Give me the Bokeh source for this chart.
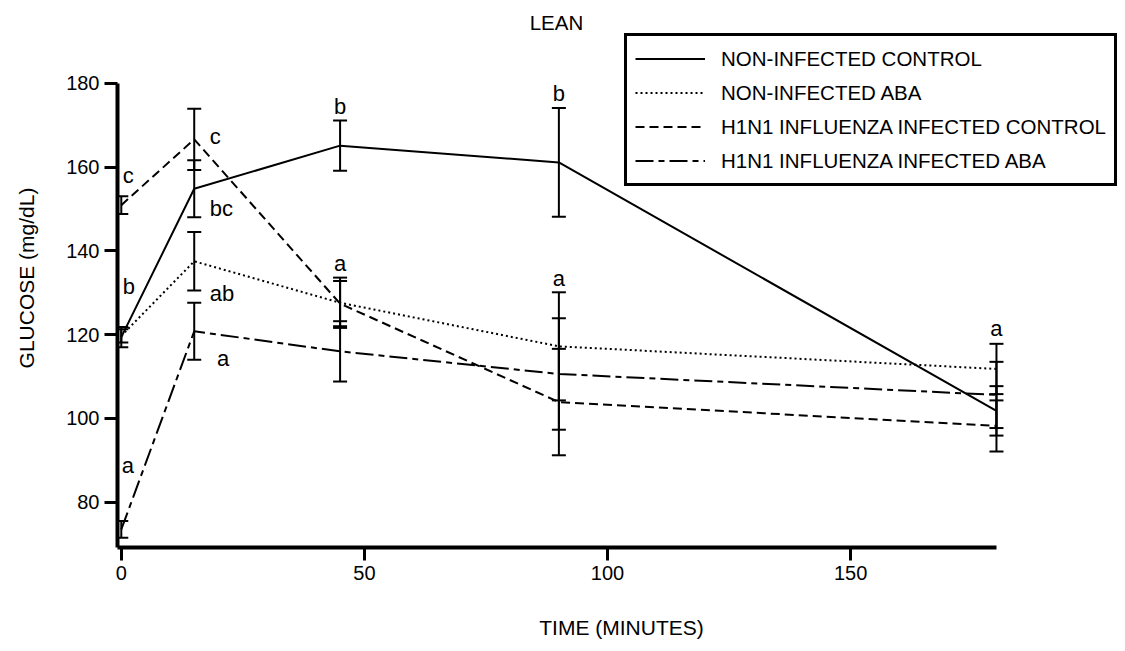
from bokeh.plotting import figure
from bokeh.models import (ColumnDataSource, Whisker, TeeHead, Legend, LegendItem,
                          Label, FixedTicker, Range1d)
from bokeh.core.properties import value
from bokeh.embed import file_html
from bokeh.resources import INLINE

FONT = "Liberation Sans"

# ---------------- data ----------------
time_min = [0, 15, 45, 90, 180]

series_names = [
    "NON-INFECTED CONTROL",
    "NON-INFECTED ABA",
    "H1N1 INFLUENZA INFECTED CONTROL",
    "H1N1 INFLUENZA INFECTED ABA",
]

noninf_control = [119.4, 154.8, 165.1, 161.1, 101.8]
noninf_control_err = [2.4, 6.8, 6.0, 13.0, 5.9]

noninf_aba = [119.7, 137.5, 127.6, 117.2, 111.8]
noninf_aba_err = [1.6, 7.0, 6.0, 12.9, 6.0]

inf_control = [150.9, 166.6, 127.4, 103.9, 98.2]
inf_control_err = [2.1, 7.3, 5.4, 12.7, 6.1]

inf_aba = [73.5, 120.8, 116.0, 110.6, 105.6]
inf_aba_err = [2.0, 6.8, 7.2, 13.3, 7.9]

x_ticks = [0, 50, 100, 150]
y_ticks = [80, 100, 120, 140, 160, 180]

# significance letters (left-aligned next to bars at 0 and 15 min)
side_letter_x = [0.3, 0.3, 0.1, 18.2, 18.2, 18.2, 19.7]
side_letter_y = [157.9, 131.4, 88.7, 167.2, 150.0, 129.7, 114.2]
side_letter_text = ["c", "b", "a", "c", "bc", "ab", "a"]

# significance letters (centred above bars at 45, 90, 180 min)
top_letter_x = [45, 45, 90, 90, 180]
top_letter_y = [174.4, 136.9, 177.5, 133.3, 121.4]
top_letter_text = ["b", "a", "b", "a", "a"]

title_text = "LEAN"
x_label = "TIME (MINUTES)"
y_label = "GLUCOSE (mg/dL)"

# ---------------- figure ----------------
p = figure(width=1125, height=651, output_backend="svg", toolbar_location=None,
           x_range=Range1d(-0.78, 206.54), y_range=Range1d(69.19, 197.83),
           min_border_left=117, min_border_right=0,
           min_border_top=8, min_border_bottom=104)
p.outline_line_color = None
p.xgrid.visible = False
p.ygrid.visible = False
p.background_fill_color = "white"

styles = [
    dict(line_dash="solid"),
    dict(line_dash="2 3"),
    dict(line_dash="9 5"),
    dict(line_dash="18 5 6 5"),
]
means = [noninf_control, noninf_aba, inf_control, inf_aba]
errs = [noninf_control_err, noninf_aba_err, inf_control_err, inf_aba_err]

renderers = []
for m, e, st in zip(means, errs, styles):
    src = ColumnDataSource(dict(
        x=time_min, y=m,
        upper=[a + b for a, b in zip(m, e)],
        lower=[a - b for a, b in zip(m, e)],
    ))
    r = p.line("x", "y", source=src, line_color="black", line_width=2, **st)
    renderers.append(r)
    w = Whisker(base="x", upper="upper", lower="lower", source=src,
                line_color="black", line_width=2,
                upper_head=TeeHead(size=14, line_width=2, line_color="black"),
                lower_head=TeeHead(size=14, line_width=2, line_color="black"))
    p.add_layout(w)

p.text(x=side_letter_x, y=side_letter_y, text=side_letter_text,
       text_font=value(FONT), text_font_size="22px", text_color="black",
       text_align="left", text_baseline="alphabetic")
p.text(x=top_letter_x, y=top_letter_y, text=top_letter_text,
       text_font=value(FONT), text_font_size="22px", text_color="black",
       text_align="center", text_baseline="alphabetic")

p.add_layout(Label(x=89.5, y=194.5, text=title_text, text_font=FONT,
                   text_font_size="20.5px", text_align="center",
                   text_baseline="alphabetic", text_color="black"))

# ---------------- axes ----------------
for ax in (p.xaxis[0], p.yaxis[0]):
    ax.axis_line_width = 4
    ax.axis_line_color = "black"
    ax.major_tick_line_width = 3
    ax.major_tick_line_color = "black"
    ax.major_tick_out = 13
    ax.major_tick_in = 0
    ax.minor_tick_line_color = None
    ax.major_label_text_font = FONT
    ax.major_label_text_font_size = "20px"
    ax.major_label_text_color = "black"
    ax.axis_label_text_font = FONT
    ax.axis_label_text_font_size = "21px"
    ax.axis_label_text_font_style = "normal"
    ax.axis_label_text_color = "black"
    ax.major_label_standoff = 5

p.xaxis.ticker = FixedTicker(ticks=x_ticks)
p.yaxis.ticker = FixedTicker(ticks=y_ticks)
p.xaxis.bounds = (-0.78, 180.1)
p.yaxis.bounds = (69.19, 180)
p.xaxis.axis_label = x_label
p.yaxis.axis_label = y_label
p.xaxis.axis_label_standoff = 33
p.yaxis.axis_label_standoff = 25

# ---------------- legend ----------------
legend = Legend(
    items=[LegendItem(label=n, renderers=[r]) for n, r in zip(series_names, renderers)],
    location=(507, 361),
    label_text_font=FONT, label_text_font_size="20.5px", label_text_color="black",
    glyph_width=70, glyph_height=29, label_height=29, label_standoff=16,
    spacing=5, padding=8, margin=0,
    border_line_color="black", border_line_width=3.5, border_line_alpha=1.0,
    background_fill_color="white", background_fill_alpha=1.0,
)
p.add_layout(legend)

open("out.html", "w").write(file_html(p, INLINE))
